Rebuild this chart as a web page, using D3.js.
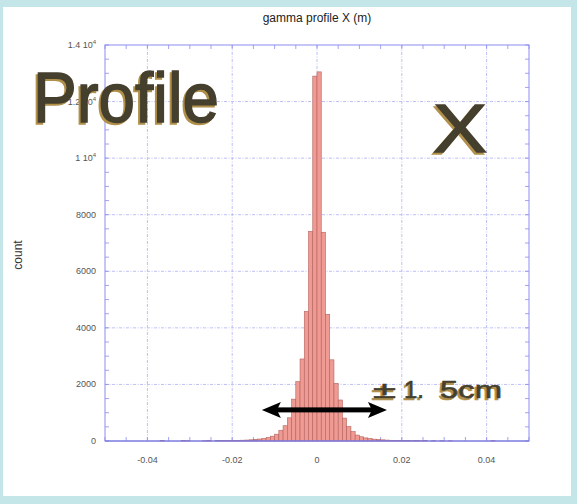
<!DOCTYPE html>
<html>
<head>
<meta charset="utf-8">
<script src="https://cdn.jsdelivr.net/npm/d3@7"></script>
<style>
  html, body { margin: 0; padding: 0; background: #c4e6e8; }
  svg { display: block; font-family: "Liberation Sans", Arial, sans-serif; }
</style>
</head>
<body>
<svg id="chart" width="577" height="504"></svg>
<script>
// histogram: bins of 0.001 m from -0.05 to 0.05
const binStart = -0.05;
const binWidth = 0.001;
const counts = [
	0, 0, 0, 0, 0, 0, 0, 0, 0, 0,
	0, 0, 0, 12, 0, 0, 0, 0, 15, 10,
	0, 0, 0, 8, 14, 0, 12, 20, 12, 16,
	18, 22, 28, 34, 42, 55, 70, 90, 120, 170,
	240, 380, 540, 820, 1480, 2100, 2900, 4580, 7410, 12900,
	13050, 7380, 4480, 2870, 2040, 1450, 810, 510, 330, 210,
	150, 110, 85, 65, 50, 40, 32, 26, 22, 18,
	15, 12, 10, 14, 8, 12, 0, 10, 0, 8,
	0, 6, 0, 0, 0, 0, 0, 0, 0, 0,
	0, 10, 0, 0, 0, 0, 0, 0, 0, 0
];

const xTicks = [-0.04, -0.02, 0, 0.02, 0.04];
const xTickLabels = ['-0.04', '-0.02', '0', '0.02', '0.04'];
const yTicks = [0, 2000, 4000, 6000, 8000, 10000, 12000, 14000];
const yTickLabels = ['0', '2000', '4000', '6000', '8000', ['1', '4'], ['1.2', '4'], ['1.4', '4']];

const titleText = 'gamma profile X (m)';
const yLabelText = 'count';
// annotation arrow in data units
const arrowRange = [-0.013, 0.0165];
const arrowLevel = 1100;

const svg = d3.select('#chart');
const margin = { top: 45, right: 48, bottom: 63, left: 105 };
const W = 577, H = 504;
const iw = W - margin.left - margin.right;
const ih = H - margin.top - margin.bottom;

svg.append('rect').attr('x', 3).attr('y', 7).attr('width', 568).attr('height', 489).attr('fill', '#fff');

const x = d3.scaleLinear().domain([-0.05, 0.05]).range([margin.left, margin.left + iw]);
const y = d3.scaleLinear().domain([0, 14000]).range([margin.top + ih, margin.top]);

const gridColor = '#bcc0f4';
const frameColor = '#8c8cf0';

// grid
const grid = svg.append('g');
grid.selectAll('.gx').data(xTicks).enter().append('line')
	.attr('x1', (d) => x(d)).attr('x2', (d) => x(d))
	.attr('y1', margin.top).attr('y2', margin.top + ih)
	.attr('stroke', gridColor).attr('stroke-width', 1).attr('stroke-dasharray', '3,1.5,1,1.5');
grid.selectAll('.gy').data(yTicks.slice(1, -1)).enter().append('line')
	.attr('x1', margin.left).attr('x2', margin.left + iw)
	.attr('y1', (d) => y(d)).attr('y2', (d) => y(d))
	.attr('stroke', gridColor).attr('stroke-width', 1).attr('stroke-dasharray', '3,1.5,1,1.5');

// minor ticks, on all four sides, inside
const xMinor = d3.range(-0.05, 0.0501, 0.005);
const yMinor = d3.range(0, 14001, 500);
const tk = svg.append('g').attr('stroke', frameColor).attr('stroke-width', 0.8);
xMinor.forEach((v) => {
	tk.append('line').attr('x1', x(v)).attr('x2', x(v)).attr('y1', y(0)).attr('y2', y(0) - 4);
	tk.append('line').attr('x1', x(v)).attr('x2', x(v)).attr('y1', margin.top).attr('y2', margin.top + 4);
});
yMinor.forEach((v) => {
	tk.append('line').attr('x1', margin.left).attr('x2', margin.left + 4).attr('y1', y(v)).attr('y2', y(v));
	tk.append('line').attr('x1', margin.left + iw).attr('x2', margin.left + iw - 4).attr('y1', y(v)).attr('y2', y(v));
});

// bars
const bars = svg.append('g');
counts.forEach((c, i) => {
	if (c <= 0) return;
	const x0 = x(binStart + i * binWidth);
	const x1 = x(binStart + (i + 1) * binWidth);
	bars.append('rect')
		.attr('x', x0).attr('width', x1 - x0)
		.attr('y', y(c)).attr('height', y(0) - y(c))
		.attr('fill', c < 60 ? '#c07888' : '#ef9a93')
		.attr('stroke', '#b4625c').attr('stroke-width', 0.6);
});

// frame
svg.append('rect').attr('x', margin.left).attr('y', margin.top).attr('width', iw).attr('height', ih)
	.attr('fill', 'none').attr('stroke', frameColor).attr('stroke-width', 1);
svg.append('line').attr('x1', margin.left).attr('x2', margin.left + iw).attr('y1', y(0)).attr('y2', y(0))
	.attr('stroke', '#7070d8').attr('stroke-width', 1.2);

// tick labels
svg.append('g').selectAll('text').data(xTicks).enter().append('text')
	.attr('x', (d) => x(d)).attr('y', y(0) + 22)
	.attr('text-anchor', 'middle').attr('font-size', 9).attr('fill', '#555')
	.text((d, i) => xTickLabels[i]);

const yl = svg.append('g').selectAll('text').data(yTicks).enter().append('text')
	.attr('x', margin.left - 9).attr('y', (d) => y(d) + 3)
	.attr('text-anchor', 'end').attr('font-size', 9).attr('fill', '#555');
yl.each(function (d, i) {
	const lab = yTickLabels[i];
	const t = d3.select(this);
	if (typeof lab === 'string') { t.text(lab); return; }
	t.append('tspan').text(lab[0] + ' 10');
	t.append('tspan').attr('dy', -4).attr('font-size', 6).text(lab[1]);
});

// title and axis label
svg.append('text').attr('x', x(0)).attr('y', 22).attr('text-anchor', 'middle')
	.attr('font-size', 12).attr('fill', '#222').text(titleText);
svg.append('text').attr('transform', 'translate(22,255) rotate(-90)').attr('text-anchor', 'middle')
	.attr('font-size', 12).attr('fill', '#333').text(yLabelText);

// arrow annotation
const ay = y(arrowLevel);
const ax0 = x(arrowRange[0]), ax1 = x(arrowRange[1]);
const arr = svg.append('g').attr('fill', '#000');
arr.append('rect').attr('x', ax0 + 14).attr('y', ay - 2.5).attr('width', ax1 - ax0 - 28).attr('height', 5);
arr.append('path').attr('d', `M${ax0},${ay} L${ax0 + 19},${ay - 8} L${ax0 + 15},${ay} L${ax0 + 19},${ay + 8} Z`);
arr.append('path').attr('d', `M${ax1},${ay} L${ax1 - 19},${ay - 8} L${ax1 - 15},${ay} L${ax1 - 19},${ay + 8} Z`);

// overlay labels with shadow
function bigText(txt, px, py, size, len, sw) {
	const g = svg.append('g').attr('font-family', '"Liberation Sans", Arial, sans-serif');
	g.append('text').attr('x', px - 2).attr('y', py + 2).attr('font-size', size)
		.attr('textLength', len).attr('lengthAdjust', 'spacingAndGlyphs')
		.attr('fill', '#b0904a').attr('stroke', '#b0904a').attr('stroke-width', sw).text(txt);
	g.append('text').attr('x', px).attr('y', py).attr('font-size', size)
		.attr('textLength', len).attr('lengthAdjust', 'spacingAndGlyphs')
		.attr('fill', '#453f2e').attr('stroke', '#453f2e').attr('stroke-width', sw).text(txt);
}
bigText('Profile', 33, 122, 70, 186, 1.5);
bigText('X', 433, 152, 68, 54, 1.5);
bigText('\u00b1', 373, 398, 24, 23, 0.6);
bigText('1.', 404, 398, 24, 20, 0.6);
bigText('5cm', 440, 398, 24, 62, 0.6);
</script>
</body>
</html>
